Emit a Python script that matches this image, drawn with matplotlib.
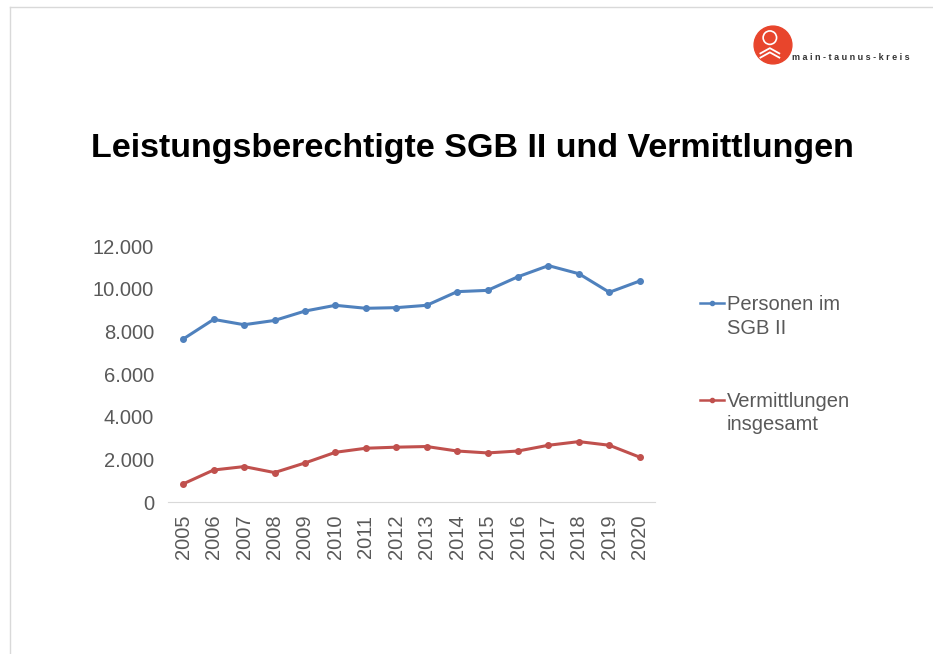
import matplotlib
matplotlib.use("Agg")
import matplotlib.pyplot as plt
from matplotlib.lines import Line2D
from matplotlib.patches import Circle
from matplotlib.ticker import FuncFormatter

# Data
years = [str(y) for y in range(2005, 2021)]
personen_sgb2 = [7640, 8560, 8310, 8510, 8950, 9220, 9080, 9110,
                 9220, 9860, 9920, 10560, 11080, 10700, 9830, 10360]
vermittlungen = [850, 1500, 1660, 1380, 1830, 2330, 2520, 2570,
                 2600, 2390, 2300, 2390, 2660, 2830, 2660, 2100]
series_labels = ["Personen im\nSGB II", "Vermittlungen\ninsgesamt"]
series_colors = ["#4f81bd", "#c0504d"]

title = "Leistungsberechtigte SGB II und Vermittlungen"

plt.rcParams['font.family'] = ['Liberation Sans', 'DejaVu Sans']

fig = plt.figure(figsize=(9.33, 6.54), dpi=100)
fig.patch.set_facecolor("white")

# slide edge
fig.add_artist(Line2D([10/933, 1], [1 - 7/654, 1 - 7/654], transform=fig.transFigure,
                      color="#d9d9d9", lw=1))
fig.add_artist(Line2D([10/933, 10/933], [0, 1 - 7/654], transform=fig.transFigure,
                      color="#d9d9d9", lw=1))

# title
fig.text(472/933, 1 - 148/654, title, ha="center", va="center",
         fontsize=24.5, fontweight="bold", color="black")

# chart
ax = fig.add_axes([168/933, 1 - 502/654, 487/933, 256/654])
x = range(len(years))
for vals, col in zip([personen_sgb2, vermittlungen], series_colors):
    ax.plot(x, vals, color=col, lw=2.2, marker="o", ms=4)

ax.set_xlim(-0.5, len(years) - 0.5)
ax.set_ylim(0, 12000)
ax.set_yticks(range(0, 12001, 2000))
ax.yaxis.set_major_formatter(FuncFormatter(lambda v, p: f"{int(v):,}".replace(",", ".")))
ax.set_xticks(list(x))
ax.set_xticklabels(years, rotation=90)
ax.tick_params(axis="both", length=0, labelsize=14.5, labelcolor="#595959")
ax.tick_params(axis="y", pad=10)
ax.tick_params(axis="x", pad=9)
for s in ["top", "right", "left"]:
    ax.spines[s].set_visible(False)
ax.spines["bottom"].set_color("#d9d9d9")

# legend (handle next to the first line of each label)
leg_y = [303, 400]
for lab, col, yy in zip(series_labels, series_colors, leg_y):
    fy = 1 - yy/654
    fig.add_artist(Line2D([700/933, 712/933, 724/933], [fy, fy, fy],
                          transform=fig.transFigure, color=col, lw=1.8,
                          marker="o", ms=3, markevery=[1]))
    fig.text(727/933, fy + 8/654, lab, fontsize=14.5, color="#595959",
             ha="left", va="top", linespacing=1.3)

# logo
lax = fig.add_axes([752/933, 1 - 66/654, 42/933, 42/654])
lax.set_xlim(-1, 1)
lax.set_ylim(-1, 1)
lax.set_aspect("equal")
lax.axis("off")
lax.add_patch(Circle((0, 0), 0.9, color="#e8452c"))
lax.add_patch(Circle((-0.15, 0.35), 0.32, fill=False, ec="white", lw=1.2))
for dy in [-0.25, -0.45]:
    lax.plot([-0.6, -0.15, 0.3], [dy - 0.15, dy + 0.1, dy - 0.15], color="white", lw=1.3)
fig.text(792/933, 1 - 58/654, "m a i n - t a u n u s - k r e i s", fontsize=6.5,
         fontweight="bold", color="#333333", va="center", ha="left")

fig.savefig("out.png", dpi=100)
